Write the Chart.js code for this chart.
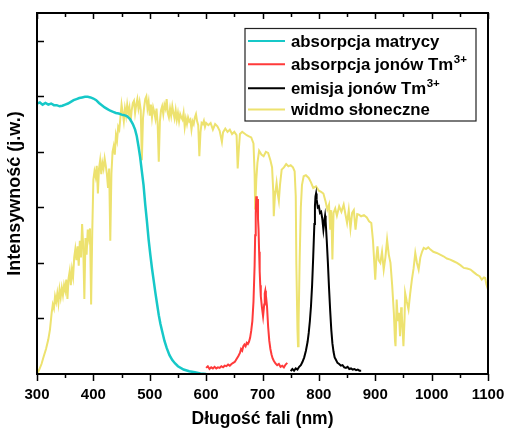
<!DOCTYPE html>
<html>
<head>
<meta charset="utf-8">
<script src="https://cdn.jsdelivr.net/npm/chart.js@4"></script>
<style>
html,body{margin:0;padding:0;background:#fff;}
canvas{display:block;}
</style>
</head>
<body>
<canvas id="c" width="505" height="432"></canvas>
<script>
// ---------- DATA ----------
const seriesNames = ["absorpcja matrycy", "absorpcja jonów Tm", "emisja jonów Tm", "widmo słoneczne"];
const xTickValues = [300, 400, 500, 600, 700, 800, 900, 1000, 1100];

const matrixNm  = [300,305,310,315,320,325,330,335,340,345,350,355,360,365,370,375,380,385,390,395,400,405,410,415,420,425,430,435,440,445,450,455,460,465,470,474,477,480,483,486,489,492,495,498,501,504,507,510,513,516,519,522,526,530,535,540,545,550,560,570,580,590,600];
const matrixVal = [4.87,4.89,4.85,4.88,4.85,4.87,4.84,4.84,4.82,4.83,4.85,4.87,4.90,4.93,4.95,4.97,4.98,4.99,4.99,4.98,4.96,4.93,4.88,4.84,4.80,4.77,4.74,4.72,4.70,4.69,4.67,4.66,4.64,4.59,4.50,4.40,4.28,4.10,3.90,3.65,3.40,3.05,2.75,2.42,2.15,1.90,1.68,1.46,1.26,1.06,0.90,0.77,0.60,0.47,0.34,0.25,0.19,0.14,0.08,0.05,0.03,0.01,0.00];

const tmAbsNm  = [600,603,606,609,612,615,618,621,624,627,630,633,636,639,642,645,648,651,654,657,660,662,664,666,668,670,672,674,676,678,680,682,684,686,687,688,689,690,691,692,693,694,695,696,697,699,701,703,704,705,706,708,710,712,714,716,718,720,723,726,729,732,735,738,741,744];
const tmAbsVal = [0.11,0.14,0.09,0.12,0.10,0.13,0.10,0.12,0.11,0.14,0.12,0.15,0.14,0.17,0.15,0.18,0.20,0.22,0.27,0.32,0.38,0.45,0.42,0.50,0.53,0.50,0.56,0.54,0.58,0.65,0.78,0.95,1.30,1.95,2.50,2.90,3.20,3.05,3.15,2.80,2.60,2.20,1.85,1.60,1.40,1.20,1.04,1.25,1.45,1.50,1.42,1.22,0.85,0.60,0.45,0.35,0.28,0.24,0.19,0.16,0.18,0.13,0.15,0.12,0.17,0.20];

const tmEmNm  = [750,753,756,759,762,765,768,771,774,777,780,782,784,786,788,790,792,793,794,795,796,798,800,802,804,806,808,810,811,812,814,816,818,820,822,824,826,828,830,833,836,839,842,845,848,851,854,857,860,863,866,869,872,875];
const tmEmVal = [0.05,0.09,0.06,0.10,0.08,0.13,0.16,0.22,0.30,0.42,0.58,0.74,0.95,1.22,1.60,2.12,2.70,3.02,3.20,3.25,3.15,3.00,3.02,2.90,2.92,2.80,2.60,2.78,2.85,2.75,2.40,2.00,1.55,1.15,0.80,0.55,0.40,0.30,0.26,0.20,0.18,0.15,0.16,0.12,0.11,0.13,0.09,0.10,0.08,0.09,0.07,0.08,0.06,0.06];

const solarNm  = [300,304,308,312,316,320,323,326,328,330,332,334,336,338,340,342,344,346,348,350,352,354,356,358,360,362,364,366,368,370,372,374,376,378,380,382,384,386,388,390,392,394,396,398,400,402,404,406,408,410,412,414,416,418,420,422,424,426,428,430,432,434,436,438,440,442,444,446,448,450,452,454,456,458,460,462,464,466,468,470,472,474,476,478,480,482,484,486,488,490,492,494,496,498,500,502,504,506,508,510,512,514,516,518,520,522,524,526,528,530,532,534,536,538,540,542,544,546,548,550,552,554,556,558,560,562,564,566,568,570,572,574,576,578,580,582,584,586,588,590,592,594,596,598,600,604,608,612,616,620,624,628,630,634,638,642,646,650,654,656,658,660,664,668,672,676,680,684,686,687,689,691,694,698,702,706,710,714,717,719,720,722,725,727,729,731,734,738,742,746,750,754,757,759,760,762,763,764,766,768,770,773,777,782,786,790,795,800,804,808,812,815,818,820,822,824,826,829,832,836,840,844,847,850,853,856,859,862,865,868,871,875,880,885,889,893,896,898,900,902,904,906,909,912,915,918,921,924,927,930,933,935,936,938,940,942,944,946,947,949,950,952,953,956,959,962,965,968,971,974,977,980,983,986,990,994,998,1003,1009,1015,1021,1027,1033,1039,1045,1051,1057,1063,1069,1075,1080,1085,1089,1093,1095,1097,1100];
const solarVal = [0.00,0.08,0.18,0.32,0.45,0.62,0.80,1.10,1.25,1.18,1.40,1.30,1.45,1.28,1.52,1.38,1.55,1.42,1.60,1.50,1.70,1.35,1.72,1.85,1.60,1.88,1.75,2.10,2.25,2.05,2.30,1.95,2.40,2.10,2.70,2.30,1.35,2.45,2.15,2.60,2.45,2.62,1.25,2.55,3.50,3.65,3.55,3.75,3.25,3.70,3.85,3.60,3.80,3.70,3.88,3.75,3.60,3.35,3.70,2.40,3.60,4.00,4.10,3.95,4.30,4.20,4.45,4.40,4.62,4.85,4.70,4.55,4.78,4.65,4.85,4.70,4.80,4.55,4.75,4.88,4.92,4.70,4.85,4.95,4.78,4.90,4.75,3.85,4.60,4.80,4.95,5.00,4.78,4.90,4.65,4.85,4.62,4.80,4.72,4.60,4.78,4.50,3.82,4.55,4.75,4.82,4.68,4.85,4.78,4.95,4.70,4.62,4.78,4.65,4.82,4.70,4.60,4.75,4.58,4.70,4.55,4.68,4.62,4.58,4.70,4.45,4.60,4.50,4.62,4.55,4.58,4.40,4.55,4.50,4.62,4.68,4.55,4.48,3.92,4.35,4.52,4.50,4.56,4.45,4.52,4.48,4.52,4.40,4.50,4.46,4.38,4.18,4.35,4.42,4.36,4.40,4.32,4.36,4.30,3.70,4.05,4.32,4.36,4.33,4.30,4.28,4.26,4.15,3.60,2.96,3.50,3.80,4.02,3.95,3.92,4.00,3.98,3.85,3.72,3.30,2.84,3.20,3.44,3.25,3.12,3.40,3.68,3.72,3.78,3.74,3.76,3.72,3.65,3.20,2.00,0.80,0.50,0.90,2.10,3.00,3.40,3.56,3.58,3.53,3.45,3.35,3.38,3.30,3.28,3.25,3.10,2.96,3.05,2.60,2.95,2.06,2.90,2.98,2.85,3.02,2.92,3.05,2.88,2.72,2.95,2.62,2.90,2.95,2.60,2.88,2.87,2.84,2.86,2.82,2.75,2.72,2.40,2.05,1.70,2.10,2.30,2.05,2.00,2.20,1.88,2.10,2.42,2.15,2.00,1.60,1.10,0.60,0.50,1.34,0.95,1.10,0.68,1.20,1.10,0.70,0.50,1.00,1.46,1.30,1.16,1.45,1.70,1.90,2.18,2.00,1.88,2.10,2.20,2.27,2.25,2.28,2.24,2.20,2.18,2.15,2.12,2.08,2.06,2.03,2.00,1.96,1.91,1.90,1.88,1.83,1.79,1.76,1.70,1.74,1.73,1.62,1.52];

const pts = (xs, ys) => xs.map((x, i) => ({x: x, y: ys[i]}));

const FONT = "'Liberation Sans', Arial, sans-serif";
const colors = ['#16C8C8', '#FF3A3A', '#000000', '#EDE26F'];

// ---------- PLUGINS (axis frame, ticks, legend) ----------
const framePlugin = {
  id: 'frame',
  afterDraw(chart) {
    const ctx = chart.ctx, a = chart.chartArea;
    const xs = chart.scales.x, ys = chart.scales.y;
    ctx.save();
    ctx.strokeStyle = '#000';
    ctx.lineWidth = 1.5;
    ctx.beginPath();
    for (let v = 300; v <= 1100; v += 50) {
      const px = Math.round(xs.getPixelForValue(v)) + 0.5;
      const major = v % 100 === 0;
      ctx.moveTo(px, a.bottom); ctx.lineTo(px, a.bottom + (major ? 7 : 4));
      ctx.moveTo(px, a.top); ctx.lineTo(px, a.top + (major ? 6 : 4));
    }
    for (let v = 1; v <= 6; v++) {
      const py = Math.round(ys.getPixelForValue(v)) + 0.5;
      ctx.moveTo(a.left, py); ctx.lineTo(a.left + 7, py);
    }
    ctx.stroke();
    ctx.lineWidth = 2;
    ctx.strokeRect(a.left, a.top, a.right - a.left, a.bottom - a.top);

    // legend
    const bx = 245, by = 28.5, bw = 231, bh = 92.5;
    ctx.fillStyle = '#fff';
    ctx.fillRect(bx, by, bw, bh);
    ctx.lineWidth = 1.2;
    ctx.strokeStyle = '#222';
    ctx.strokeRect(bx, by, bw, bh);
    const lineYs = [41, 64.3, 88.3, 109.5];
    const baseYs = [46.7, 69.5, 93.5, 115];
    const sup = [false, true, true, false];
    for (let i = 0; i < 4; i++) {
      ctx.strokeStyle = colors[i];
      ctx.lineWidth = 2;
      ctx.beginPath();
      ctx.moveTo(248, lineYs[i]); ctx.lineTo(285, lineYs[i]);
      ctx.stroke();
      ctx.fillStyle = '#000';
      ctx.textBaseline = 'alphabetic';
      ctx.textAlign = 'left';
      ctx.font = 'bold 16.8px ' + FONT;
      ctx.fillText(seriesNames[i], 291, baseYs[i]);
      if (sup[i]) {
        const w = ctx.measureText(seriesNames[i]).width;
        ctx.font = 'bold 11.5px ' + FONT;
        ctx.fillText('3+', 291 + w + 0.5, baseYs[i] - 7);
      }
    }
    ctx.restore();
  }
};

new Chart(document.getElementById('c'), {
  type: 'line',
  data: {
    datasets: [
      {label: seriesNames[0], data: pts(matrixNm, matrixVal), borderColor: colors[0], borderWidth: 2.5},
      {label: seriesNames[1], data: pts(tmAbsNm, tmAbsVal), borderColor: colors[1], borderWidth: 2},
      {label: seriesNames[2], data: pts(tmEmNm, tmEmVal), borderColor: colors[2], borderWidth: 2},
      {label: seriesNames[3], data: pts(solarNm, solarVal), borderColor: colors[3], borderWidth: 2}
    ]
  },
  options: {
    responsive: false,
    animation: false,
    devicePixelRatio: 1,
    elements: {point: {radius: 0}, line: {tension: 0, fill: false}},
    layout: {padding: {top: 13, right: 17, left: 0, bottom: 0}},
    plugins: {legend: {display: false}, tooltip: {enabled: false}},
    scales: {
      x: {
        type: 'linear', min: 300, max: 1100,
        afterFit(s) { s.height = 58; s.paddingLeft = 0; s.paddingRight = 0; },
        afterBuildTicks(s) { s.ticks = xTickValues.map(v => ({value: v})); },
        grid: {display: false, drawTicks: false},
        border: {display: false},
        ticks: {color: '#000', font: {family: FONT, size: 15, weight: 'bold'}, padding: 12, maxRotation: 0, autoSkip: false, callback: v => String(v)},
        title: {display: true, text: 'Długość fali (nm)', color: '#000', font: {family: FONT, size: 17.5, weight: 'bold'}, padding: {top: 0, bottom: 2}}
      },
      y: {
        type: 'linear', min: 0, max: 6.5,
        afterFit(s) { s.width = 37; s.paddingTop = 0; s.paddingBottom = 0; },
        grid: {display: false, drawTicks: false},
        border: {display: false},
        ticks: {display: false, stepSize: 1},
        title: {display: true, text: 'Intensywność (j.w.)', color: '#000', font: {family: FONT, size: 18, weight: 'bold'}, padding: {top: 4, bottom: 0}}
      }
    }
  },
  plugins: [framePlugin]
});
</script>
</body>
</html>
